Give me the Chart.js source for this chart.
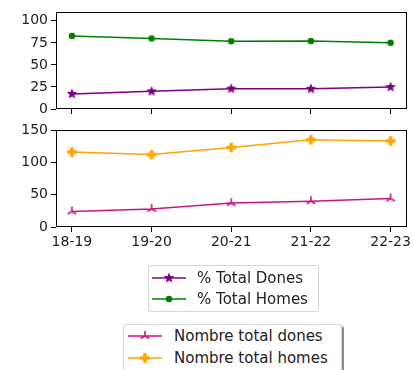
<!DOCTYPE html>
<html>
<head>
<meta charset="utf-8">
<script src="https://cdn.jsdelivr.net/npm/chart.js@4/dist/chart.umd.min.js"></script>
<style>
  html, body { margin: 0; padding: 0; background: #fff; }
  body { width: 413px; height: 370px; position: relative; overflow: hidden; font-family: "DejaVu Sans", sans-serif; color: #222; }
  canvas.plot { position: absolute; left: 0; }
  .legend { position: absolute; border: 1px solid #d6d6d6; border-radius: 3px; background: rgba(255,255,255,0.85); box-sizing: border-box; }
  .row { position: absolute; height: 20px; font-size: 15px; line-height: 20px; white-space: nowrap; }
  .row canvas { position: absolute; left: 0; top: 3px; }
  .row span { position: absolute; top: 0; }
</style>
</head>
<body>
<canvas id="topChart" class="plot" width="413" height="120" style="top:0"></canvas>
<canvas id="bottomChart" class="plot" width="413" height="142" style="top:118px"></canvas>
<div id="legendTop" class="legend" style="left:148px; top:265px; width:171px; height:47px"></div>
<div id="legendBottom" class="legend" style="left:123px; top:324px; width:219px; height:60px; box-shadow:2px 2px 0 rgba(0,0,0,0.45)"></div>

<script>
/* seasons on the x axis */
const seasons = ["18-19", "19-20", "20-21", "21-22", "22-23"];

/* top panel: percentages */
const pctDones = [17.1, 20.0, 23.1, 22.9, 24.9];
const pctHomes = [82.9, 80.0, 76.9, 77.1, 75.1];
const topTicks = [0, 25, 50, 75, 100];

/* bottom panel: totals */
const totalDones = [24, 28, 37, 40, 44];
const totalHomes = [116, 112, 123, 135, 133];
const bottomTicks = [0, 50, 100, 150];

const TEXT = "#222";
const FONT = "DejaVu Sans";

function makeMarker(kind, color) {
  const c = document.createElement("canvas");
  c.width = 14; c.height = 14;
  const g = c.getContext("2d");
  g.translate(7, 7);
  g.fillStyle = color; g.strokeStyle = color;
  if (kind === "star") {
    g.beginPath();
    for (let i = 0; i < 10; i++) {
      const r = i % 2 === 0 ? 5.6 : 2.4;
      const a = -Math.PI / 2 + i * Math.PI / 5;
      g.lineTo(r * Math.cos(a), r * Math.sin(a));
    }
    g.closePath(); g.fill();
  } else if (kind === "circle") {
    g.beginPath(); g.arc(0, 0, 3.3, 0, Math.PI * 2); g.fill();
  } else if (kind === "tri") {
    g.lineWidth = 1.6;
    g.beginPath();
    [-90, 30, 150].forEach((deg) => {
      const a = deg * Math.PI / 180;
      g.moveTo(0, 0); g.lineTo(5 * Math.cos(a), 5 * Math.sin(a));
    });
    g.stroke();
  } else if (kind === "plus") {
    const a = 4.8, b = 1.8;
    g.beginPath();
    g.moveTo(-b, -a); g.lineTo(b, -a); g.lineTo(b, -b); g.lineTo(a, -b); g.lineTo(a, b); g.lineTo(b, b);
    g.lineTo(b, a); g.lineTo(-b, a); g.lineTo(-b, b); g.lineTo(-a, b); g.lineTo(-a, -b); g.lineTo(-b, -b);
    g.closePath(); g.fill();
  }
  return c;
}

const series = {
  pctDones: { label: "% Total Dones", color: "#800080", marker: "star" },
  pctHomes: { label: "% Total Homes", color: "#008000", marker: "circle" },
  totalDones: { label: "Nombre total dones", color: "#c71585", marker: "tri" },
  totalHomes: { label: "Nombre total homes", color: "#ffa500", marker: "plus" },
};

function dataset(key, values) {
  const s = series[key];
  return {
    label: s.label,
    data: values.map((v, i) => ({ x: i, y: v })),
    borderColor: s.color,
    backgroundColor: s.color,
    borderWidth: 1.5,
    tension: 0,
    pointStyle: makeMarker(s.marker, s.color),
    pointRadius: 5,
  };
}

const frame = {
  id: "frame",
  afterDraw(chart) {
    const a = chart.chartArea, ctx = chart.ctx;
    ctx.save();
    ctx.strokeStyle = "#000"; ctx.lineWidth = 1;
    ctx.strokeRect(Math.round(a.left) + 0.5, Math.round(a.top) + 0.5, Math.round(a.right - a.left) - 1, Math.round(a.bottom - a.top) - 1);
    ctx.restore();
  },
};

function panel(id, datasets, yMax, yTicks, showX, xHeight) {
  return new Chart(document.getElementById(id), {
    type: "line",
    data: { datasets },
    plugins: [frame],
    options: {
      responsive: false,
      devicePixelRatio: 1,
      animation: false,
      layout: { padding: { top: 12, right: 3, left: 0, bottom: 0 } },
      plugins: { legend: { display: false }, tooltip: { enabled: false } },
      scales: {
        x: {
          type: "linear", min: -0.2, max: 4.2,
          afterBuildTicks: (s) => { s.ticks = seasons.map((_, i) => ({ value: i })); },
          afterFit: (s) => { s.height = xHeight; s.paddingLeft = 0; s.paddingRight = 0; },
          grid: { drawOnChartArea: false, drawTicks: true, tickLength: 5, tickColor: "#000" },
          border: { display: false },
          ticks: {
            color: TEXT, font: { family: FONT, size: 14 }, padding: 2, maxRotation: 0, autoSkip: false,
            callback: (v) => (showX ? seasons[v] : ""),
          },
        },
        y: {
          min: 0, max: yMax,
          afterBuildTicks: (s) => { s.ticks = yTicks.map((v) => ({ value: v })); },
          afterFit: (s) => { s.width = 56; s.paddingTop = 0; s.paddingBottom = 0; },
          grid: { drawOnChartArea: false, drawTicks: true, tickLength: 5, tickColor: "#000" },
          border: { display: false },
          ticks: { color: TEXT, font: { family: FONT, size: 14 }, padding: 3 },
        },
      },
    },
  });
}

panel("topChart", [dataset("pctDones", pctDones), dataset("pctHomes", pctHomes)], 110, topTicks, false, 11);
panel("bottomChart", [dataset("totalDones", totalDones), dataset("totalHomes", totalHomes)], 150, bottomTicks, true, 33);

function legendRow(box, key, top, sampleLeft, textLeft) {
  const s = series[key];
  const row = document.createElement("div");
  row.className = "row";
  row.style.top = top + "px";
  row.style.left = "0px";
  const c = document.createElement("canvas");
  c.width = 34; c.height = 14;
  c.style.left = sampleLeft + "px";
  const g = c.getContext("2d");
  g.strokeStyle = s.color; g.lineWidth = 1.5;
  g.beginPath(); g.moveTo(0, 7); g.lineTo(34, 7); g.stroke();
  g.drawImage(makeMarker(s.marker, s.color), 10, 0);
  const t = document.createElement("span");
  t.textContent = s.label;
  t.style.left = textLeft + "px";
  row.appendChild(c); row.appendChild(t);
  box.appendChild(row);
}

const lt = document.getElementById("legendTop");
legendRow(lt, "pctDones", 2, 3, 48);
legendRow(lt, "pctHomes", 23, 3, 48);
const lb = document.getElementById("legendBottom");
legendRow(lb, "totalDones", 1, 4, 50);
legendRow(lb, "totalHomes", 23, 4, 50);
</script>
</body>
</html>
